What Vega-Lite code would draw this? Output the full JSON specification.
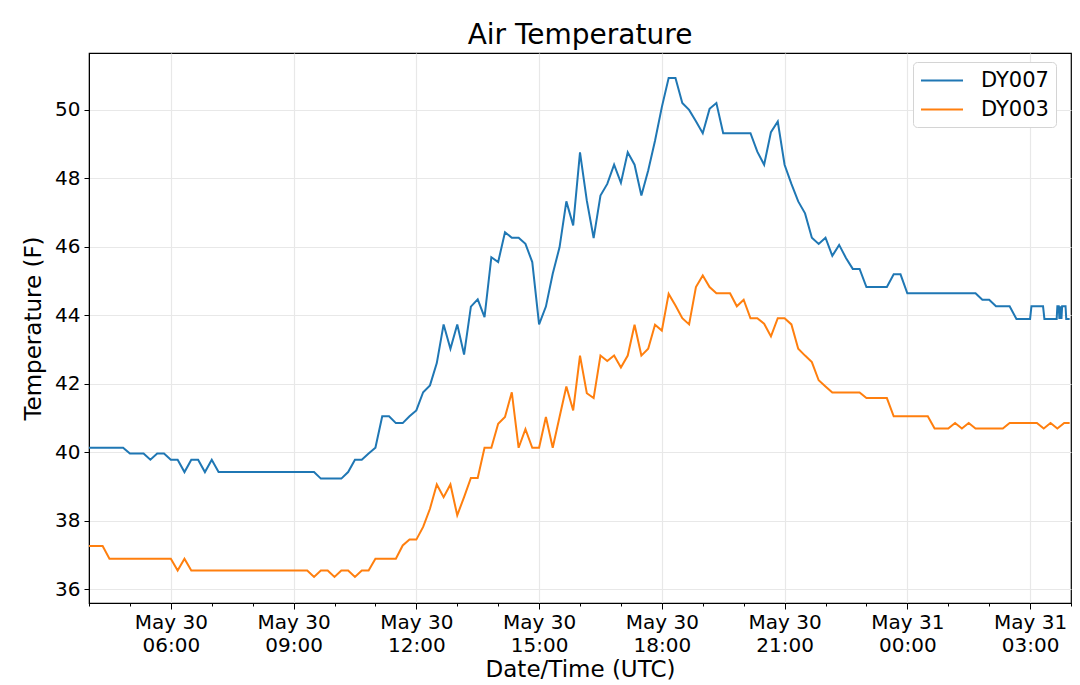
{
  "$schema": "https://vega.github.io/schema/vega-lite/v6.json",
  "width": 982,
  "height": 550,
  "autosize": {"type": "none"},
  "padding": {"left": 89, "top": 53, "right": 9, "bottom": 82},
  "background": "white",
  "title": {"text": "Air Temperature", "fontSize": 28, "fontWeight": "normal", "color": "black", "offset": 3},
  "config": {
    "font": "DejaVu Sans",
    "view": {"stroke": "black", "strokeWidth": 1.2},
    "axis": {
      "domainColor": "black", "tickColor": "black", "labelColor": "black", "titleColor": "black",
      "labelFontSize": 20, "titleFontSize": 23, "titleFontWeight": "normal",
      "gridColor": "#e8e8e8", "gridWidth": 1.2
    },
    "legend": {
      "orient": "none", "legendX": 824, "legendY": 9, "padding": 7, "fillColor": "white",
      "strokeColor": "#d4d4d4", "cornerRadius": 4, "labelFontSize": 21, "labelColor": "black",
      "symbolType": "M-1,0H3", "symbolSize": 441, "symbolStrokeWidth": 2, "labelOffset": 38, "rowPadding": 7
    }
  },
  "data": {"values": [
    {"t": "2019-05-30T04:00:00Z", "s": "DY007", "v": 40.13},
    {"t": "2019-05-30T04:10:00Z", "s": "DY007", "v": 40.13},
    {"t": "2019-05-30T04:20:00Z", "s": "DY007", "v": 40.13},
    {"t": "2019-05-30T04:30:00Z", "s": "DY007", "v": 40.13},
    {"t": "2019-05-30T04:40:00Z", "s": "DY007", "v": 40.13},
    {"t": "2019-05-30T04:50:00Z", "s": "DY007", "v": 40.13},
    {"t": "2019-05-30T05:00:00Z", "s": "DY007", "v": 39.96},
    {"t": "2019-05-30T05:10:00Z", "s": "DY007", "v": 39.96},
    {"t": "2019-05-30T05:20:00Z", "s": "DY007", "v": 39.96},
    {"t": "2019-05-30T05:30:00Z", "s": "DY007", "v": 39.78},
    {"t": "2019-05-30T05:40:00Z", "s": "DY007", "v": 39.96},
    {"t": "2019-05-30T05:50:00Z", "s": "DY007", "v": 39.96},
    {"t": "2019-05-30T06:00:00Z", "s": "DY007", "v": 39.78},
    {"t": "2019-05-30T06:10:00Z", "s": "DY007", "v": 39.78},
    {"t": "2019-05-30T06:20:00Z", "s": "DY007", "v": 39.42},
    {"t": "2019-05-30T06:30:00Z", "s": "DY007", "v": 39.78},
    {"t": "2019-05-30T06:40:00Z", "s": "DY007", "v": 39.78},
    {"t": "2019-05-30T06:50:00Z", "s": "DY007", "v": 39.42},
    {"t": "2019-05-30T07:00:00Z", "s": "DY007", "v": 39.78},
    {"t": "2019-05-30T07:10:00Z", "s": "DY007", "v": 39.42},
    {"t": "2019-05-30T07:20:00Z", "s": "DY007", "v": 39.42},
    {"t": "2019-05-30T07:30:00Z", "s": "DY007", "v": 39.42},
    {"t": "2019-05-30T07:40:00Z", "s": "DY007", "v": 39.42},
    {"t": "2019-05-30T07:50:00Z", "s": "DY007", "v": 39.42},
    {"t": "2019-05-30T08:00:00Z", "s": "DY007", "v": 39.42},
    {"t": "2019-05-30T08:10:00Z", "s": "DY007", "v": 39.42},
    {"t": "2019-05-30T08:20:00Z", "s": "DY007", "v": 39.42},
    {"t": "2019-05-30T08:30:00Z", "s": "DY007", "v": 39.42},
    {"t": "2019-05-30T08:40:00Z", "s": "DY007", "v": 39.42},
    {"t": "2019-05-30T08:50:00Z", "s": "DY007", "v": 39.42},
    {"t": "2019-05-30T09:00:00Z", "s": "DY007", "v": 39.42},
    {"t": "2019-05-30T09:10:00Z", "s": "DY007", "v": 39.42},
    {"t": "2019-05-30T09:20:00Z", "s": "DY007", "v": 39.42},
    {"t": "2019-05-30T09:30:00Z", "s": "DY007", "v": 39.42},
    {"t": "2019-05-30T09:40:00Z", "s": "DY007", "v": 39.23},
    {"t": "2019-05-30T09:50:00Z", "s": "DY007", "v": 39.23},
    {"t": "2019-05-30T10:00:00Z", "s": "DY007", "v": 39.23},
    {"t": "2019-05-30T10:10:00Z", "s": "DY007", "v": 39.23},
    {"t": "2019-05-30T10:20:00Z", "s": "DY007", "v": 39.42},
    {"t": "2019-05-30T10:30:00Z", "s": "DY007", "v": 39.78},
    {"t": "2019-05-30T10:40:00Z", "s": "DY007", "v": 39.78},
    {"t": "2019-05-30T10:50:00Z", "s": "DY007", "v": 39.96},
    {"t": "2019-05-30T11:00:00Z", "s": "DY007", "v": 40.13},
    {"t": "2019-05-30T11:10:00Z", "s": "DY007", "v": 41.05},
    {"t": "2019-05-30T11:20:00Z", "s": "DY007", "v": 41.05},
    {"t": "2019-05-30T11:30:00Z", "s": "DY007", "v": 40.85},
    {"t": "2019-05-30T11:40:00Z", "s": "DY007", "v": 40.85},
    {"t": "2019-05-30T11:50:00Z", "s": "DY007", "v": 41.05},
    {"t": "2019-05-30T12:00:00Z", "s": "DY007", "v": 41.22},
    {"t": "2019-05-30T12:10:00Z", "s": "DY007", "v": 41.75},
    {"t": "2019-05-30T12:20:00Z", "s": "DY007", "v": 41.95},
    {"t": "2019-05-30T12:30:00Z", "s": "DY007", "v": 42.6},
    {"t": "2019-05-30T12:40:00Z", "s": "DY007", "v": 43.73},
    {"t": "2019-05-30T12:50:00Z", "s": "DY007", "v": 43.02},
    {"t": "2019-05-30T13:00:00Z", "s": "DY007", "v": 43.73},
    {"t": "2019-05-30T13:10:00Z", "s": "DY007", "v": 42.85},
    {"t": "2019-05-30T13:20:00Z", "s": "DY007", "v": 44.25},
    {"t": "2019-05-30T13:30:00Z", "s": "DY007", "v": 44.46},
    {"t": "2019-05-30T13:40:00Z", "s": "DY007", "v": 43.94},
    {"t": "2019-05-30T13:50:00Z", "s": "DY007", "v": 45.69},
    {"t": "2019-05-30T14:00:00Z", "s": "DY007", "v": 45.55},
    {"t": "2019-05-30T14:10:00Z", "s": "DY007", "v": 46.42},
    {"t": "2019-05-30T14:20:00Z", "s": "DY007", "v": 46.26},
    {"t": "2019-05-30T14:30:00Z", "s": "DY007", "v": 46.26},
    {"t": "2019-05-30T14:40:00Z", "s": "DY007", "v": 46.08},
    {"t": "2019-05-30T14:50:00Z", "s": "DY007", "v": 45.55},
    {"t": "2019-05-30T15:00:00Z", "s": "DY007", "v": 43.73},
    {"t": "2019-05-30T15:10:00Z", "s": "DY007", "v": 44.25},
    {"t": "2019-05-30T15:20:00Z", "s": "DY007", "v": 45.21},
    {"t": "2019-05-30T15:30:00Z", "s": "DY007", "v": 45.98},
    {"t": "2019-05-30T15:40:00Z", "s": "DY007", "v": 47.32},
    {"t": "2019-05-30T15:50:00Z", "s": "DY007", "v": 46.62},
    {"t": "2019-05-30T16:00:00Z", "s": "DY007", "v": 48.75},
    {"t": "2019-05-30T16:10:00Z", "s": "DY007", "v": 47.34},
    {"t": "2019-05-30T16:20:00Z", "s": "DY007", "v": 46.25},
    {"t": "2019-05-30T16:30:00Z", "s": "DY007", "v": 47.49},
    {"t": "2019-05-30T16:40:00Z", "s": "DY007", "v": 47.83},
    {"t": "2019-05-30T16:50:00Z", "s": "DY007", "v": 48.39},
    {"t": "2019-05-30T17:00:00Z", "s": "DY007", "v": 47.86},
    {"t": "2019-05-30T17:10:00Z", "s": "DY007", "v": 48.75},
    {"t": "2019-05-30T17:20:00Z", "s": "DY007", "v": 48.39},
    {"t": "2019-05-30T17:30:00Z", "s": "DY007", "v": 47.49},
    {"t": "2019-05-30T17:40:00Z", "s": "DY007", "v": 48.22},
    {"t": "2019-05-30T17:50:00Z", "s": "DY007", "v": 49.09},
    {"t": "2019-05-30T18:00:00Z", "s": "DY007", "v": 50.07},
    {"t": "2019-05-30T18:10:00Z", "s": "DY007", "v": 50.92},
    {"t": "2019-05-30T18:20:00Z", "s": "DY007", "v": 50.92},
    {"t": "2019-05-30T18:30:00Z", "s": "DY007", "v": 50.19},
    {"t": "2019-05-30T18:40:00Z", "s": "DY007", "v": 49.99},
    {"t": "2019-05-30T18:50:00Z", "s": "DY007", "v": 49.66},
    {"t": "2019-05-30T19:00:00Z", "s": "DY007", "v": 49.31},
    {"t": "2019-05-30T19:10:00Z", "s": "DY007", "v": 50.02},
    {"t": "2019-05-30T19:20:00Z", "s": "DY007", "v": 50.19},
    {"t": "2019-05-30T19:30:00Z", "s": "DY007", "v": 49.31},
    {"t": "2019-05-30T19:40:00Z", "s": "DY007", "v": 49.31},
    {"t": "2019-05-30T19:50:00Z", "s": "DY007", "v": 49.31},
    {"t": "2019-05-30T20:00:00Z", "s": "DY007", "v": 49.31},
    {"t": "2019-05-30T20:10:00Z", "s": "DY007", "v": 49.31},
    {"t": "2019-05-30T20:20:00Z", "s": "DY007", "v": 48.77},
    {"t": "2019-05-30T20:30:00Z", "s": "DY007", "v": 48.39},
    {"t": "2019-05-30T20:40:00Z", "s": "DY007", "v": 49.34},
    {"t": "2019-05-30T20:50:00Z", "s": "DY007", "v": 49.65},
    {"t": "2019-05-30T21:00:00Z", "s": "DY007", "v": 48.39},
    {"t": "2019-05-30T21:10:00Z", "s": "DY007", "v": 47.83},
    {"t": "2019-05-30T21:20:00Z", "s": "DY007", "v": 47.32},
    {"t": "2019-05-30T21:30:00Z", "s": "DY007", "v": 46.97},
    {"t": "2019-05-30T21:40:00Z", "s": "DY007", "v": 46.26},
    {"t": "2019-05-30T21:50:00Z", "s": "DY007", "v": 46.08},
    {"t": "2019-05-30T22:00:00Z", "s": "DY007", "v": 46.26},
    {"t": "2019-05-30T22:10:00Z", "s": "DY007", "v": 45.73},
    {"t": "2019-05-30T22:20:00Z", "s": "DY007", "v": 46.05},
    {"t": "2019-05-30T22:30:00Z", "s": "DY007", "v": 45.67},
    {"t": "2019-05-30T22:40:00Z", "s": "DY007", "v": 45.35},
    {"t": "2019-05-30T22:50:00Z", "s": "DY007", "v": 45.35},
    {"t": "2019-05-30T23:00:00Z", "s": "DY007", "v": 44.82},
    {"t": "2019-05-30T23:10:00Z", "s": "DY007", "v": 44.82},
    {"t": "2019-05-30T23:20:00Z", "s": "DY007", "v": 44.82},
    {"t": "2019-05-30T23:30:00Z", "s": "DY007", "v": 44.82},
    {"t": "2019-05-30T23:40:00Z", "s": "DY007", "v": 45.19},
    {"t": "2019-05-30T23:50:00Z", "s": "DY007", "v": 45.19},
    {"t": "2019-05-31T00:00:00Z", "s": "DY007", "v": 44.64},
    {"t": "2019-05-31T00:10:00Z", "s": "DY007", "v": 44.64},
    {"t": "2019-05-31T00:20:00Z", "s": "DY007", "v": 44.64},
    {"t": "2019-05-31T00:30:00Z", "s": "DY007", "v": 44.64},
    {"t": "2019-05-31T00:40:00Z", "s": "DY007", "v": 44.64},
    {"t": "2019-05-31T00:50:00Z", "s": "DY007", "v": 44.64},
    {"t": "2019-05-31T01:00:00Z", "s": "DY007", "v": 44.64},
    {"t": "2019-05-31T01:10:00Z", "s": "DY007", "v": 44.64},
    {"t": "2019-05-31T01:20:00Z", "s": "DY007", "v": 44.64},
    {"t": "2019-05-31T01:30:00Z", "s": "DY007", "v": 44.64},
    {"t": "2019-05-31T01:40:00Z", "s": "DY007", "v": 44.64},
    {"t": "2019-05-31T01:50:00Z", "s": "DY007", "v": 44.45},
    {"t": "2019-05-31T02:00:00Z", "s": "DY007", "v": 44.45},
    {"t": "2019-05-31T02:10:00Z", "s": "DY007", "v": 44.26},
    {"t": "2019-05-31T02:20:00Z", "s": "DY007", "v": 44.26},
    {"t": "2019-05-31T02:30:00Z", "s": "DY007", "v": 44.26},
    {"t": "2019-05-31T02:40:00Z", "s": "DY007", "v": 43.89},
    {"t": "2019-05-31T02:50:00Z", "s": "DY007", "v": 43.89},
    {"t": "2019-05-31T03:00:00Z", "s": "DY007", "v": 43.89},
    {"t": "2019-05-31T03:02:00Z", "s": "DY007", "v": 44.26},
    {"t": "2019-05-31T03:10:00Z", "s": "DY007", "v": 44.26},
    {"t": "2019-05-31T03:19:00Z", "s": "DY007", "v": 44.26},
    {"t": "2019-05-31T03:21:00Z", "s": "DY007", "v": 43.89},
    {"t": "2019-05-31T03:30:00Z", "s": "DY007", "v": 43.89},
    {"t": "2019-05-31T03:39:00Z", "s": "DY007", "v": 43.89},
    {"t": "2019-05-31T03:40:00Z", "s": "DY007", "v": 44.26},
    {"t": "2019-05-31T03:42:00Z", "s": "DY007", "v": 44.26},
    {"t": "2019-05-31T03:43:00Z", "s": "DY007", "v": 43.89},
    {"t": "2019-05-31T03:44:00Z", "s": "DY007", "v": 44.26},
    {"t": "2019-05-31T03:46:00Z", "s": "DY007", "v": 43.89},
    {"t": "2019-05-31T03:47:00Z", "s": "DY007", "v": 44.26},
    {"t": "2019-05-31T03:52:00Z", "s": "DY007", "v": 44.26},
    {"t": "2019-05-31T03:53:00Z", "s": "DY007", "v": 43.89},
    {"t": "2019-05-31T03:58:00Z", "s": "DY007", "v": 43.89},

    {"t": "2019-05-30T04:00:00Z", "s": "DY003", "v": 37.26},
    {"t": "2019-05-30T04:10:00Z", "s": "DY003", "v": 37.26},
    {"t": "2019-05-30T04:20:00Z", "s": "DY003", "v": 37.26},
    {"t": "2019-05-30T04:30:00Z", "s": "DY003", "v": 36.89},
    {"t": "2019-05-30T04:40:00Z", "s": "DY003", "v": 36.89},
    {"t": "2019-05-30T04:50:00Z", "s": "DY003", "v": 36.89},
    {"t": "2019-05-30T05:00:00Z", "s": "DY003", "v": 36.89},
    {"t": "2019-05-30T05:10:00Z", "s": "DY003", "v": 36.89},
    {"t": "2019-05-30T05:20:00Z", "s": "DY003", "v": 36.89},
    {"t": "2019-05-30T05:30:00Z", "s": "DY003", "v": 36.89},
    {"t": "2019-05-30T05:40:00Z", "s": "DY003", "v": 36.89},
    {"t": "2019-05-30T05:50:00Z", "s": "DY003", "v": 36.89},
    {"t": "2019-05-30T06:00:00Z", "s": "DY003", "v": 36.89},
    {"t": "2019-05-30T06:10:00Z", "s": "DY003", "v": 36.55},
    {"t": "2019-05-30T06:20:00Z", "s": "DY003", "v": 36.89},
    {"t": "2019-05-30T06:30:00Z", "s": "DY003", "v": 36.55},
    {"t": "2019-05-30T06:40:00Z", "s": "DY003", "v": 36.55},
    {"t": "2019-05-30T06:50:00Z", "s": "DY003", "v": 36.55},
    {"t": "2019-05-30T07:00:00Z", "s": "DY003", "v": 36.55},
    {"t": "2019-05-30T07:10:00Z", "s": "DY003", "v": 36.55},
    {"t": "2019-05-30T07:20:00Z", "s": "DY003", "v": 36.55},
    {"t": "2019-05-30T07:30:00Z", "s": "DY003", "v": 36.55},
    {"t": "2019-05-30T07:40:00Z", "s": "DY003", "v": 36.55},
    {"t": "2019-05-30T07:50:00Z", "s": "DY003", "v": 36.55},
    {"t": "2019-05-30T08:00:00Z", "s": "DY003", "v": 36.55},
    {"t": "2019-05-30T08:10:00Z", "s": "DY003", "v": 36.55},
    {"t": "2019-05-30T08:20:00Z", "s": "DY003", "v": 36.55},
    {"t": "2019-05-30T08:30:00Z", "s": "DY003", "v": 36.55},
    {"t": "2019-05-30T08:40:00Z", "s": "DY003", "v": 36.55},
    {"t": "2019-05-30T08:50:00Z", "s": "DY003", "v": 36.55},
    {"t": "2019-05-30T09:00:00Z", "s": "DY003", "v": 36.55},
    {"t": "2019-05-30T09:10:00Z", "s": "DY003", "v": 36.55},
    {"t": "2019-05-30T09:20:00Z", "s": "DY003", "v": 36.55},
    {"t": "2019-05-30T09:30:00Z", "s": "DY003", "v": 36.36},
    {"t": "2019-05-30T09:40:00Z", "s": "DY003", "v": 36.55},
    {"t": "2019-05-30T09:50:00Z", "s": "DY003", "v": 36.55},
    {"t": "2019-05-30T10:00:00Z", "s": "DY003", "v": 36.36},
    {"t": "2019-05-30T10:10:00Z", "s": "DY003", "v": 36.55},
    {"t": "2019-05-30T10:20:00Z", "s": "DY003", "v": 36.55},
    {"t": "2019-05-30T10:30:00Z", "s": "DY003", "v": 36.36},
    {"t": "2019-05-30T10:40:00Z", "s": "DY003", "v": 36.55},
    {"t": "2019-05-30T10:50:00Z", "s": "DY003", "v": 36.55},
    {"t": "2019-05-30T11:00:00Z", "s": "DY003", "v": 36.89},
    {"t": "2019-05-30T11:10:00Z", "s": "DY003", "v": 36.89},
    {"t": "2019-05-30T11:20:00Z", "s": "DY003", "v": 36.89},
    {"t": "2019-05-30T11:30:00Z", "s": "DY003", "v": 36.89},
    {"t": "2019-05-30T11:40:00Z", "s": "DY003", "v": 37.28},
    {"t": "2019-05-30T11:50:00Z", "s": "DY003", "v": 37.45},
    {"t": "2019-05-30T12:00:00Z", "s": "DY003", "v": 37.45},
    {"t": "2019-05-30T12:10:00Z", "s": "DY003", "v": 37.82},
    {"t": "2019-05-30T12:20:00Z", "s": "DY003", "v": 38.35},
    {"t": "2019-05-30T12:30:00Z", "s": "DY003", "v": 39.06},
    {"t": "2019-05-30T12:40:00Z", "s": "DY003", "v": 38.69},
    {"t": "2019-05-30T12:50:00Z", "s": "DY003", "v": 39.06},
    {"t": "2019-05-30T13:00:00Z", "s": "DY003", "v": 38.16},
    {"t": "2019-05-30T13:10:00Z", "s": "DY003", "v": 38.69},
    {"t": "2019-05-30T13:20:00Z", "s": "DY003", "v": 39.25},
    {"t": "2019-05-30T13:30:00Z", "s": "DY003", "v": 39.25},
    {"t": "2019-05-30T13:40:00Z", "s": "DY003", "v": 40.13},
    {"t": "2019-05-30T13:50:00Z", "s": "DY003", "v": 40.13},
    {"t": "2019-05-30T14:00:00Z", "s": "DY003", "v": 40.83},
    {"t": "2019-05-30T14:10:00Z", "s": "DY003", "v": 41.03},
    {"t": "2019-05-30T14:20:00Z", "s": "DY003", "v": 41.75},
    {"t": "2019-05-30T14:30:00Z", "s": "DY003", "v": 40.13},
    {"t": "2019-05-30T14:40:00Z", "s": "DY003", "v": 40.67},
    {"t": "2019-05-30T14:50:00Z", "s": "DY003", "v": 40.13},
    {"t": "2019-05-30T15:00:00Z", "s": "DY003", "v": 40.13},
    {"t": "2019-05-30T15:10:00Z", "s": "DY003", "v": 41.03},
    {"t": "2019-05-30T15:20:00Z", "s": "DY003", "v": 40.13},
    {"t": "2019-05-30T15:30:00Z", "s": "DY003", "v": 41.03},
    {"t": "2019-05-30T15:40:00Z", "s": "DY003", "v": 41.92},
    {"t": "2019-05-30T15:50:00Z", "s": "DY003", "v": 41.22},
    {"t": "2019-05-30T16:00:00Z", "s": "DY003", "v": 42.82},
    {"t": "2019-05-30T16:10:00Z", "s": "DY003", "v": 41.72},
    {"t": "2019-05-30T16:20:00Z", "s": "DY003", "v": 41.58},
    {"t": "2019-05-30T16:30:00Z", "s": "DY003", "v": 42.82},
    {"t": "2019-05-30T16:40:00Z", "s": "DY003", "v": 42.66},
    {"t": "2019-05-30T16:50:00Z", "s": "DY003", "v": 42.82},
    {"t": "2019-05-30T17:00:00Z", "s": "DY003", "v": 42.47},
    {"t": "2019-05-30T17:10:00Z", "s": "DY003", "v": 42.82},
    {"t": "2019-05-30T17:20:00Z", "s": "DY003", "v": 43.72},
    {"t": "2019-05-30T17:30:00Z", "s": "DY003", "v": 42.82},
    {"t": "2019-05-30T17:40:00Z", "s": "DY003", "v": 43.02},
    {"t": "2019-05-30T17:50:00Z", "s": "DY003", "v": 43.72},
    {"t": "2019-05-30T18:00:00Z", "s": "DY003", "v": 43.55},
    {"t": "2019-05-30T18:10:00Z", "s": "DY003", "v": 44.62},
    {"t": "2019-05-30T18:20:00Z", "s": "DY003", "v": 44.28},
    {"t": "2019-05-30T18:30:00Z", "s": "DY003", "v": 43.91},
    {"t": "2019-05-30T18:40:00Z", "s": "DY003", "v": 43.73},
    {"t": "2019-05-30T18:50:00Z", "s": "DY003", "v": 44.82},
    {"t": "2019-05-30T19:00:00Z", "s": "DY003", "v": 45.16},
    {"t": "2019-05-30T19:10:00Z", "s": "DY003", "v": 44.82},
    {"t": "2019-05-30T19:20:00Z", "s": "DY003", "v": 44.64},
    {"t": "2019-05-30T19:30:00Z", "s": "DY003", "v": 44.64},
    {"t": "2019-05-30T19:40:00Z", "s": "DY003", "v": 44.64},
    {"t": "2019-05-30T19:50:00Z", "s": "DY003", "v": 44.26},
    {"t": "2019-05-30T20:00:00Z", "s": "DY003", "v": 44.45},
    {"t": "2019-05-30T20:10:00Z", "s": "DY003", "v": 43.91},
    {"t": "2019-05-30T20:20:00Z", "s": "DY003", "v": 43.91},
    {"t": "2019-05-30T20:30:00Z", "s": "DY003", "v": 43.75},
    {"t": "2019-05-30T20:40:00Z", "s": "DY003", "v": 43.38},
    {"t": "2019-05-30T20:50:00Z", "s": "DY003", "v": 43.91},
    {"t": "2019-05-30T21:00:00Z", "s": "DY003", "v": 43.91},
    {"t": "2019-05-30T21:10:00Z", "s": "DY003", "v": 43.73},
    {"t": "2019-05-30T21:20:00Z", "s": "DY003", "v": 43.02},
    {"t": "2019-05-30T21:30:00Z", "s": "DY003", "v": 42.82},
    {"t": "2019-05-30T21:40:00Z", "s": "DY003", "v": 42.63},
    {"t": "2019-05-30T21:50:00Z", "s": "DY003", "v": 42.1},
    {"t": "2019-05-30T22:00:00Z", "s": "DY003", "v": 41.92},
    {"t": "2019-05-30T22:10:00Z", "s": "DY003", "v": 41.74},
    {"t": "2019-05-30T22:20:00Z", "s": "DY003", "v": 41.74},
    {"t": "2019-05-30T22:30:00Z", "s": "DY003", "v": 41.74},
    {"t": "2019-05-30T22:40:00Z", "s": "DY003", "v": 41.74},
    {"t": "2019-05-30T22:50:00Z", "s": "DY003", "v": 41.74},
    {"t": "2019-05-30T23:00:00Z", "s": "DY003", "v": 41.58},
    {"t": "2019-05-30T23:10:00Z", "s": "DY003", "v": 41.58},
    {"t": "2019-05-30T23:20:00Z", "s": "DY003", "v": 41.58},
    {"t": "2019-05-30T23:30:00Z", "s": "DY003", "v": 41.58},
    {"t": "2019-05-30T23:40:00Z", "s": "DY003", "v": 41.05},
    {"t": "2019-05-30T23:50:00Z", "s": "DY003", "v": 41.05},
    {"t": "2019-05-31T00:00:00Z", "s": "DY003", "v": 41.05},
    {"t": "2019-05-31T00:10:00Z", "s": "DY003", "v": 41.05},
    {"t": "2019-05-31T00:20:00Z", "s": "DY003", "v": 41.05},
    {"t": "2019-05-31T00:30:00Z", "s": "DY003", "v": 41.05},
    {"t": "2019-05-31T00:40:00Z", "s": "DY003", "v": 40.69},
    {"t": "2019-05-31T00:50:00Z", "s": "DY003", "v": 40.69},
    {"t": "2019-05-31T01:00:00Z", "s": "DY003", "v": 40.69},
    {"t": "2019-05-31T01:10:00Z", "s": "DY003", "v": 40.85},
    {"t": "2019-05-31T01:20:00Z", "s": "DY003", "v": 40.69},
    {"t": "2019-05-31T01:30:00Z", "s": "DY003", "v": 40.85},
    {"t": "2019-05-31T01:40:00Z", "s": "DY003", "v": 40.69},
    {"t": "2019-05-31T01:50:00Z", "s": "DY003", "v": 40.69},
    {"t": "2019-05-31T02:00:00Z", "s": "DY003", "v": 40.69},
    {"t": "2019-05-31T02:10:00Z", "s": "DY003", "v": 40.69},
    {"t": "2019-05-31T02:20:00Z", "s": "DY003", "v": 40.69},
    {"t": "2019-05-31T02:30:00Z", "s": "DY003", "v": 40.85},
    {"t": "2019-05-31T02:40:00Z", "s": "DY003", "v": 40.85},
    {"t": "2019-05-31T02:50:00Z", "s": "DY003", "v": 40.85},
    {"t": "2019-05-31T03:00:00Z", "s": "DY003", "v": 40.85},
    {"t": "2019-05-31T03:10:00Z", "s": "DY003", "v": 40.85},
    {"t": "2019-05-31T03:20:00Z", "s": "DY003", "v": 40.69},
    {"t": "2019-05-31T03:30:00Z", "s": "DY003", "v": 40.85},
    {"t": "2019-05-31T03:40:00Z", "s": "DY003", "v": 40.69},
    {"t": "2019-05-31T03:50:00Z", "s": "DY003", "v": 40.85},
    {"t": "2019-05-31T03:58:00Z", "s": "DY003", "v": 40.85}
  ]},
  "mark": {"type": "line", "strokeWidth": 2},
  "encoding": {
    "x": {
      "field": "t", "type": "temporal",
      "scale": {"type": "utc", "domain": [
        {"year": 2019, "month": 5, "date": 30, "hours": 4, "utc": true},
        {"year": 2019, "month": 5, "date": 31, "hours": 4, "utc": true}]},
      "axis": {
        "title": "Date/Time (UTC)",
        "values": [
          {"year": 2019, "month": 5, "date": 30, "hours": 4, "utc": true},
          {"year": 2019, "month": 5, "date": 30, "hours": 5, "utc": true},
          {"year": 2019, "month": 5, "date": 30, "hours": 6, "utc": true},
          {"year": 2019, "month": 5, "date": 30, "hours": 7, "utc": true},
          {"year": 2019, "month": 5, "date": 30, "hours": 8, "utc": true},
          {"year": 2019, "month": 5, "date": 30, "hours": 9, "utc": true},
          {"year": 2019, "month": 5, "date": 30, "hours": 10, "utc": true},
          {"year": 2019, "month": 5, "date": 30, "hours": 11, "utc": true},
          {"year": 2019, "month": 5, "date": 30, "hours": 12, "utc": true},
          {"year": 2019, "month": 5, "date": 30, "hours": 13, "utc": true},
          {"year": 2019, "month": 5, "date": 30, "hours": 14, "utc": true},
          {"year": 2019, "month": 5, "date": 30, "hours": 15, "utc": true},
          {"year": 2019, "month": 5, "date": 30, "hours": 16, "utc": true},
          {"year": 2019, "month": 5, "date": 30, "hours": 17, "utc": true},
          {"year": 2019, "month": 5, "date": 30, "hours": 18, "utc": true},
          {"year": 2019, "month": 5, "date": 30, "hours": 19, "utc": true},
          {"year": 2019, "month": 5, "date": 30, "hours": 20, "utc": true},
          {"year": 2019, "month": 5, "date": 30, "hours": 21, "utc": true},
          {"year": 2019, "month": 5, "date": 30, "hours": 22, "utc": true},
          {"year": 2019, "month": 5, "date": 30, "hours": 23, "utc": true},
          {"year": 2019, "month": 5, "date": 31, "hours": 0, "utc": true},
          {"year": 2019, "month": 5, "date": 31, "hours": 1, "utc": true},
          {"year": 2019, "month": 5, "date": 31, "hours": 2, "utc": true},
          {"year": 2019, "month": 5, "date": 31, "hours": 3, "utc": true},
          {"year": 2019, "month": 5, "date": 31, "hours": 4, "utc": true}],
        "labelExpr": "utchours(datum.value) % 3 === 0 && utchours(datum.value) !== 4 ? [utcFormat(datum.value, '%b %d'), utcFormat(datum.value, '%H:%M')] : ''",
        "labelLineHeight": 23, "labelFlush": false, "labelOverlap": false,
        "grid": true,
        "gridOpacity": {"condition": {"test": "utchours(datum.value) % 3 === 0", "value": 1}, "value": 0},
        "tickSize": {"condition": {"test": "utchours(datum.value) % 3 === 0", "value": 6}, "value": 3},
        "labelPadding": 3, "titlePadding": 3
      }
    },
    "y": {
      "field": "v", "type": "quantitative",
      "scale": {"domain": [35.6, 51.65], "zero": false, "nice": false},
      "axis": {"title": "Temperature (F)", "values": [36, 38, 40, 42, 44, 46, 48, 50], "grid": true,
               "tickSize": 5, "labelPadding": 4, "titlePadding": 9}
    },
    "color": {
      "field": "s", "type": "nominal",
      "scale": {"domain": ["DY007", "DY003"], "range": ["#1f77b4", "#ff7f0e"]},
      "legend": {"title": null}
    }
  }
}
